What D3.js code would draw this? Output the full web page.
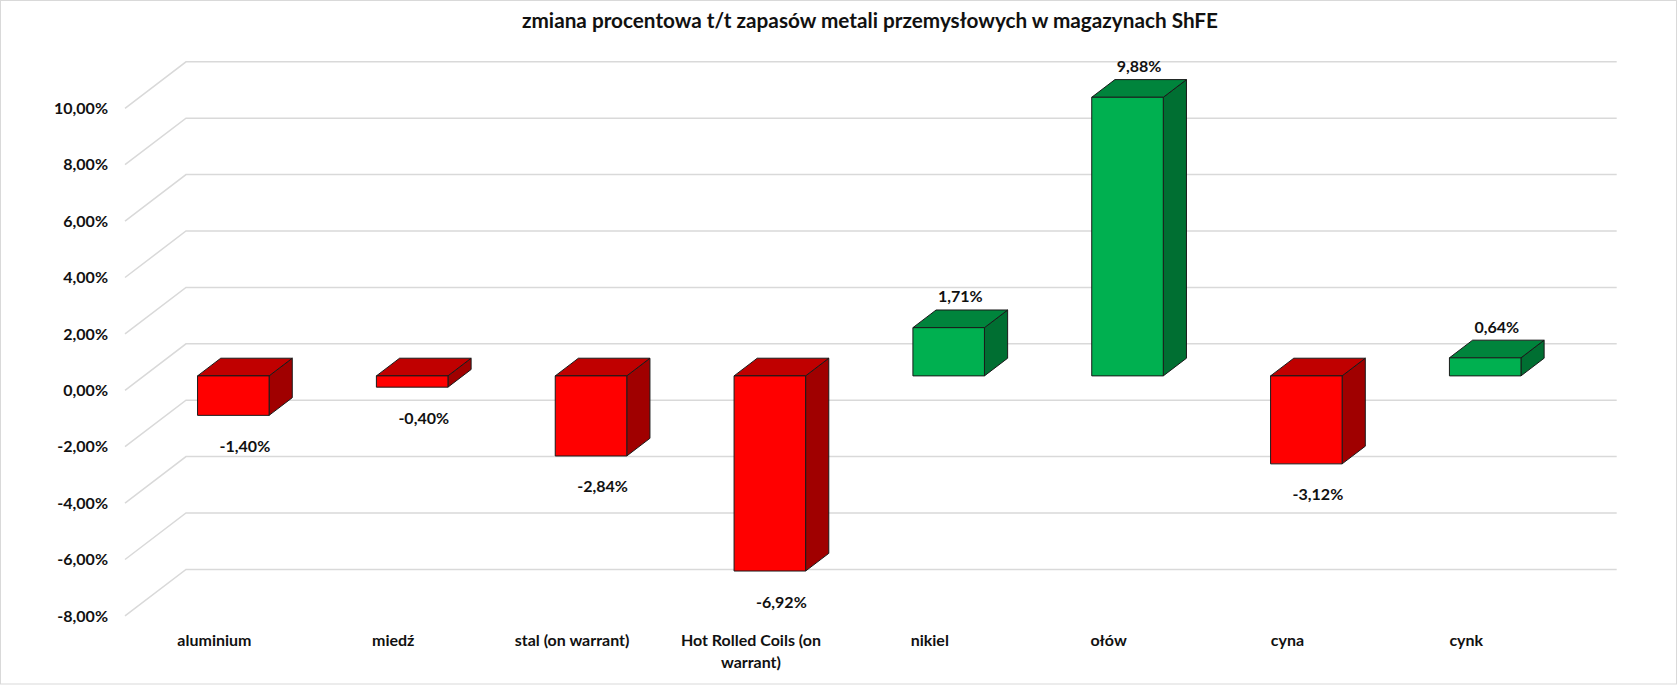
<!DOCTYPE html>
<html>
<head>
<meta charset="utf-8">
<script src="https://cdn.jsdelivr.net/npm/d3@7"></script>
<style>
  body { margin: 0; background: #fff; }
  text { font-family: Lato, "Open Sans", sans-serif; font-weight: 700; fill: #111; }
</style>
</head>
<body>
<div id="chart"></div>
<script>
// data
var title = "zmiana procentowa t/t zapasów metali przemysłowych w magazynach ShFE";
var categories = ["aluminium", "miedź", "stal (on warrant)", "Hot Rolled Coils (on warrant)",
                  "nikiel", "ołów", "cyna", "cynk"];
var values = [-1.40, -0.40, -2.84, -6.92, 1.71, 9.88, -3.12, 0.64];
var yTicks = [-8, -6, -4, -2, 0, 2, 4, 6, 8, 10];

// size of the picture and the 3d box
var W = 1677, H = 685;
var left = 125, plotW = 1430.7;       // front edge of the floor
var depthX = 61, depthY = 46.5;        // wall depth offset
var barD0 = 0.31, barD1 = 0.69;        // bars sit in the middle of the depth

var svg = d3.select("#chart").append("svg")
  .attr("width", W)
  .attr("height", H);

svg.append("rect")
  .attr("x", 0.5).attr("y", 0.5)
  .attr("width", W - 1).attr("height", H - 1.5)
  .attr("fill", "#fff")
  .attr("stroke", "#d9d9d9");

// scales for the front plane
var y = d3.scaleLinear().domain([-8, 10]).range([615.9, 108.3]);
var x = d3.scaleBand().domain(categories).range([0, plotW])
  .paddingInner(0.6).paddingOuter(0.3);

// project a point: px along the floor, value v, depth d (0 front .. 1 back)
function P(px, v, d) {
  return [left + px + depthX * d, y(v) - depthY * d];
}

var pl = d3.formatLocale({decimal: ",", thousands: " ", grouping: [3], currency: ["", " zł"], minus: "-"});
var pct = function(v) { return pl.format(".2f")(v) + "%"; };

// gridlines: side wall diagonals and back wall lines
var grid = svg.append("g");
yTicks.forEach(function(t) {
  var a = P(0, t, 0), b = P(0, t, 1), c = P(plotW, t, 1);
  grid.append("polyline")
    .attr("points", [a, b, c].map(function(p) { return p.join(","); }).join(" "))
    .attr("fill", "none")
    .attr("stroke", "#d9d9d9")
    .attr("stroke-width", 1.5);
});

// y axis labels
var yAxis = svg.append("g")
  .attr("transform", "translate(" + left + ",0)")
  .call(d3.axisLeft(y).tickValues(yTicks).tickFormat(pct).tickSize(0).tickPadding(17));
yAxis.select(".domain").remove();
yAxis.selectAll("text")
  .style("font-family", "Lato, sans-serif")
  .style("font-weight", 700)
  .style("font-size", "16px")
  .attr("fill", "#111");

// bars
var red = {front: "#ff0000", top: "#c00000", side: "#a00000"};
var green = {front: "#00b050", top: "#00843c", side: "#006f32"};

function poly(g, pts, fill) {
  g.append("polygon")
    .attr("points", pts.map(function(p) { return p.join(","); }).join(" "))
    .attr("fill", fill)
    .attr("stroke", "#1a1a1a")
    .attr("stroke-width", 1)
    .attr("stroke-linejoin", "round");
}

var bars = svg.append("g");
categories.forEach(function(c, i) {
  var v = values[i];
  var col = v < 0 ? red : green;
  var x0 = x(c), x1 = x(c) + x.bandwidth();
  var hi = Math.max(v, 0), lo = Math.min(v, 0);
  var g = bars.append("g");
  // right side
  poly(g, [P(x1, hi, barD0), P(x1, hi, barD1), P(x1, lo, barD1), P(x1, lo, barD0)], col.side);
  // top
  poly(g, [P(x0, hi, barD0), P(x0, hi, barD1), P(x1, hi, barD1), P(x1, hi, barD0)], col.top);
  // front
  poly(g, [P(x0, hi, barD0), P(x1, hi, barD0), P(x1, lo, barD0), P(x0, lo, barD0)], col.front);

  // value label
  var mid = (barD0 + barD1) / 2;
  var cx = P(x0 + x.bandwidth() / 2, 0, mid)[0];
  var cy = v < 0 ? P(0, lo, barD0)[1] + 30 : P(0, hi, barD1)[1] - 14;
  svg.append("text")
    .attr("x", cx)
    .attr("y", cy)
    .attr("text-anchor", "middle")
    .attr("dominant-baseline", "central")
    .style("font-size", "16px")
    .text(pct(v));
});

// category labels on the front edge, wrapped to the band
var catG = svg.append("g");
categories.forEach(function(c) {
  var cx = left + x(c) + x.bandwidth() / 2;
  var t = catG.append("text")
    .attr("x", cx)
    .attr("y", 646)
    .attr("text-anchor", "middle")
    .style("font-size", "16px");
  var words = c.split(" "), line = [];
  var tspan = t.append("tspan").attr("x", cx).attr("dy", 0);
  words.forEach(function(w) {
    line.push(w);
    tspan.text(line.join(" "));
    if (tspan.node().getComputedTextLength() > 170 && line.length > 1) {
      line.pop();
      tspan.text(line.join(" "));
      line = [w];
      tspan = t.append("tspan").attr("x", cx).attr("dy", 22).text(w);
    }
  });
});

// title, fitted to the width it has in the picture
var tt = svg.append("text")
  .attr("x", 870)
  .attr("y", 20)
  .attr("text-anchor", "middle")
  .attr("dominant-baseline", "central")
  .style("font-size", "20px")
  .text(title);
var tw = tt.node().getComputedTextLength();
tt.style("font-size", (20 * 696 / tw).toFixed(2) + "px");
</script>
</body>
</html>
